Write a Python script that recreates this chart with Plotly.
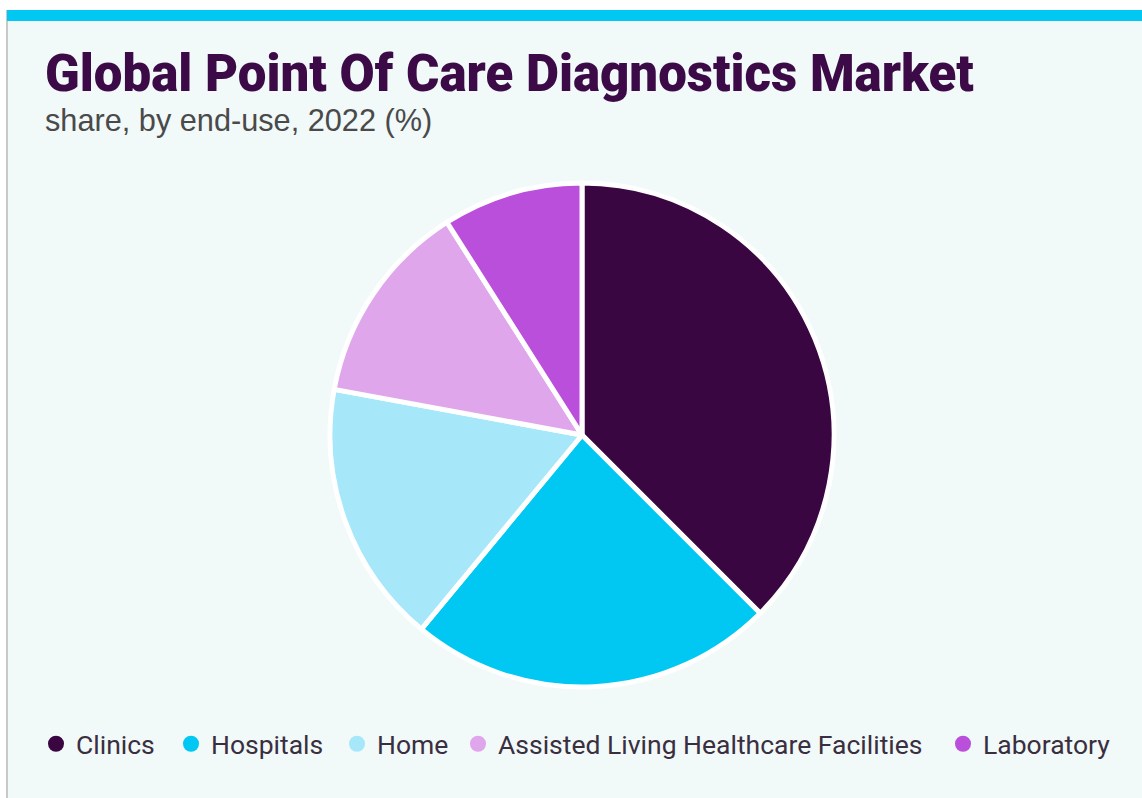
import plotly.graph_objects as go

# Market share by end-use, 2022 (%)
segments = ["Clinics", "Hospitals", "Home", "Assisted Living Healthcare Facilities", "Laboratory"]
shares = [37.5, 23.5, 16.9, 13.1, 9.0]
colors = ["#3A0642", "#00C8F2", "#A6E7F9", "#E0A6EC", "#B94FDA"]

W, H = 1142, 798
BG = "#F1F9F9"

def px_x(v):
    return v / W

def px_y(v):
    return 1 - v / H

fig = go.Figure()

# Pie itself (legend drawn by the marker traces below)
fig.add_trace(go.Pie(
    labels=segments,
    values=shares,
    sort=False,
    direction="clockwise",
    rotation=0,
    marker=dict(colors=colors, line=dict(color="white", width=5)),
    textinfo="none",
    hoverinfo="label+percent",
    showlegend=False,
    domain=dict(x=[px_x(330), px_x(834)], y=[px_y(687), px_y(183)]),
))

# Circle-marker legend entries, one legend box per entry so each can be spaced freely
legend_text_left = [78, 213, 379, 500, 985]
legend_font = dict(family="Roboto", size=26.5, color="#3A2F3F")
legend_layouts = {}
for i, (name, col, tx) in enumerate(zip(segments, colors, legend_text_left)):
    key = "legend" if i == 0 else f"legend{i + 1}"
    fig.add_trace(go.Scatter(
        x=[None], y=[None], mode="markers", name=name,
        marker=dict(symbol="circle", size=16, color=col),
        showlegend=True, legend=key,
    ))
    legend_layouts[key] = dict(
        orientation="h",
        x=px_x(tx - 42), xanchor="left",
        y=px_y(744), yanchor="middle",
        bgcolor="rgba(0,0,0,0)",
        font=legend_font,
        itemsizing="trace",
    )

fig.update_layout(
    width=W, height=H,
    margin=dict(l=0, r=0, t=0, b=0),
    paper_bgcolor="white",
    plot_bgcolor="rgba(0,0,0,0)",
    xaxis=dict(visible=False),
    yaxis=dict(visible=False),
    showlegend=True,
    **legend_layouts,
    shapes=[
        # panel background with grey left edge
        dict(type="rect", xref="paper", yref="paper",
             x0=px_x(7), x1=1.0, y0=0, y1=px_y(10),
             fillcolor=BG, line=dict(width=0), layer="below"),
        dict(type="line", xref="paper", yref="paper",
             x0=px_x(7), x1=px_x(7), y0=0, y1=px_y(10),
             line=dict(color="#C8C8C8", width=2), layer="below"),
        # cyan top band
        dict(type="rect", xref="paper", yref="paper",
             x0=px_x(7), x1=1.0, y0=px_y(21), y1=px_y(10),
             fillcolor="#00C8F2", line=dict(width=0), layer="below"),
    ],
    annotations=[
        dict(text="Global Point Of Care Diagnostics Market",
             xref="paper", yref="paper", x=px_x(43), y=px_y(42),
             xanchor="left", yanchor="top", showarrow=False,
             font=dict(family="Roboto", size=51, color="#3B0A47", weight=900)),
        dict(text="share, by end-use, 2022 (%)",
             xref="paper", yref="paper", x=px_x(43), y=px_y(101),
             xanchor="left", yanchor="top", showarrow=False,
             font=dict(family="Liberation Sans", size=30.7, color="#4A4A4A")),
    ],
)

fig.write_html("out.html")
